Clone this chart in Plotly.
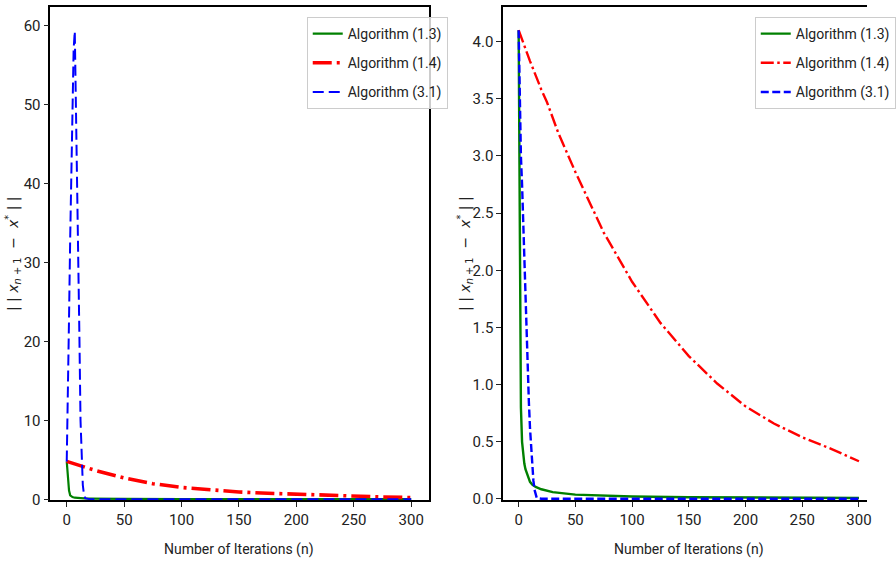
import plotly.graph_objects as go

# ---------------- data ----------------
# Left panel
n_left_green = [0, 1, 2, 3, 4, 5, 7, 10, 15, 20, 30, 50, 100, 150, 200, 250, 300]
alg13_left = [4.8, 2.6, 1.1, 0.5, 0.35, 0.28, 0.2, 0.15, 0.11, 0.09, 0.07, 0.05, 0.03, 0.02, 0.015, 0.012, 0.01]

n_left_red = [0, 10, 25, 50, 75, 100, 125, 150, 175, 200, 225, 250, 275, 300]
alg14_left = [4.8, 4.35, 3.65, 2.7, 1.98, 1.5, 1.18, 0.93, 0.76, 0.62, 0.5, 0.39, 0.3, 0.22]

n_left_blue = [0, 1, 2, 3, 4, 5, 6, 7, 8, 9, 10, 11, 12, 13, 14, 15, 16, 20, 50, 100, 150, 200, 250, 300]
alg31_left = [4.8, 12, 23, 33, 42, 50, 57, 59.3, 51, 42.5, 32, 21, 10, 4.5, 1.8, 0.6, 0.15,
              0.02, 0.01, 0.01, 0.01, 0.01, 0.01, 0.01]

# Right panel
n_right_green = [0, 1, 2, 3, 4, 5, 6, 8, 10, 12, 15, 20, 30, 50, 75, 100, 150, 200, 250, 300]
alg13_right = [4.1, 2.2, 0.8, 0.5, 0.38, 0.31, 0.26, 0.2, 0.15, 0.125, 0.105, 0.085, 0.06,
               0.038, 0.027, 0.021, 0.015, 0.012, 0.01, 0.009]

n_right_red = [0, 10, 20, 25, 35, 50, 75, 100, 125, 150, 175, 200, 225, 250, 275, 300]
alg14_right = [4.1, 3.83, 3.58, 3.47, 3.2, 2.86, 2.33, 1.90, 1.54, 1.25, 1.01, 0.81, 0.66, 0.54, 0.44, 0.33]

n_right_blue = [0, 1, 2, 3, 4, 5, 6, 7, 8, 9, 10, 11, 12, 13, 14, 15, 16, 20, 50, 100, 150, 200, 250, 300]
alg31_right = [4.1, 3.3, 3.0, 2.75, 2.4, 2.05, 1.72, 1.4, 1.1, 0.85, 0.62, 0.44, 0.28, 0.16, 0.08,
               0.03, 0.008, 0.002, 0.002, 0.002, 0.002, 0.002, 0.002, 0.002]

series_names = ["Algorithm (1.3)", "Algorithm (1.4)", "Algorithm (3.1)"]
x_ticks = [0, 50, 100, 150, 200, 250, 300]
y_ticks_left = [0, 10, 20, 30, 40, 50, 60]
y_ticks_right = [0.0, 0.5, 1.0, 1.5, 2.0, 2.5, 3.0, 3.5, 4.0]
x_title = "Number of Iterations (n)"
y_title = "| | <i>x</i><sub><i>n</i> + 1</sub>  −  <i>x</i><sup>*</sup> | |"

# ---------------- styling ----------------
W, H = 896, 567
FONT = "Roboto, Lato, sans-serif"
GREEN, RED, BLUE = "#008000", "#ff0000", "#0000ff"

fig = go.Figure()

def add_panel(xref, yref, legend, data, widths, dashes):
    for (xs, ys), name, color, w, d in zip(data, series_names, [GREEN, RED, BLUE], widths, dashes):
        fig.add_trace(go.Scatter(
            x=xs, y=ys, mode="lines", name=name,
            line=dict(color=color, width=w, dash=d),
            xaxis=xref, yaxis=yref, legend=legend,
            legendgroup=legend + name,
        ))

add_panel("x", "y", "legend",
          [(n_left_green, alg13_left), (n_left_red, alg14_left), (n_left_blue, alg31_left)],
          [2.2, 3.6, 2.0], ["solid", "19px,5px,3px,5px", "11px,5px"])
add_panel("x2", "y2", "legend2",
          [(n_right_green, alg13_right), (n_right_red, alg14_right), (n_right_blue, alg31_right)],
          [2.4, 2.4, 2.4], ["solid", "13px,3.5px,2.5px,3.5px", "8px,3.5px"])

# pixel geometry of the two plot areas
MT, MB = 7, 67
L1, R1 = 52, 443
L2, R2 = 520, 896
PH = H - MT - MB

def px(v):
    return v / W

axis_common = dict(
    showline=True, linecolor="#000000", linewidth=1.6,
    ticks="outside", ticklen=5, tickwidth=1.2, tickcolor="#222222",
    showgrid=False, zeroline=False,
    tickfont=dict(family=FONT, size=15, color="#222222"),
)

fig.update_layout(
    width=W, height=H,
    margin=dict(l=0, r=0, t=MT, b=MB),
    paper_bgcolor="white", plot_bgcolor="white",
    font=dict(family=FONT, color="#222222"),
    xaxis=dict(domain=[px(L1), px(R1)], range=[-14.3, 315.2], tickvals=x_ticks,
               mirror=True, anchor="y", **axis_common),
    yaxis=dict(domain=[0, 1], range=[-0.09, 62.36], tickvals=y_ticks_left,
               mirror=True, anchor="x", **axis_common),
    xaxis2=dict(domain=[px(L2), px(R2)], range=[-13.65, 307.1], tickvals=x_ticks,
                mirror=True, anchor="y2", **axis_common),
    yaxis2=dict(domain=[0, 1], range=[-0.009, 4.303], tickvals=y_ticks_right,
                tickformat=".1f", mirror=False, anchor="x2", **axis_common),
    legend=dict(x=px(317), y=1 - 10 / PH, xanchor="left", yanchor="top",
                bgcolor="rgba(255,255,255,0.8)", bordercolor="#cccccc", borderwidth=1,
                font=dict(family=FONT, size=14, color="#222222"),
                traceorder="grouped", tracegroupgap=8, itemwidth=30),
    legend2=dict(x=px(780), y=1 - 10 / PH, xanchor="left", yanchor="top",
                 bgcolor="rgba(255,255,255,0.8)", bordercolor="#cccccc", borderwidth=1,
                 font=dict(family=FONT, size=14, color="#222222"),
                 traceorder="grouped", tracegroupgap=8, itemwidth=30),
    showlegend=True,
)

ann_font = dict(family=FONT, size=14, color="#222222")
title_font = dict(family="DejaVu Sans, sans-serif", size=14, color="#222222")
fig.add_annotation(text=x_title, xref="paper", yref="paper", x=px(247), y=-(549 - 500) / PH,
                   xanchor="center", yanchor="middle", showarrow=False, font=ann_font)
fig.add_annotation(text=x_title, xref="paper", yref="paper", x=px(712), y=-(549 - 500) / PH,
                   xanchor="center", yanchor="middle", showarrow=False, font=ann_font)
fig.add_annotation(text=y_title, xref="paper", yref="paper", x=px(13), y=0.5, textangle=-90,
                   xanchor="center", yanchor="middle", showarrow=False, font=title_font)
fig.add_annotation(text=y_title, xref="paper", yref="paper", x=px(480), y=0.5, textangle=-90,
                   xanchor="center", yanchor="middle", showarrow=False, font=title_font)

fig.write_html(
    "out.html",
    config={"displayModeBar": False},
    post_script="document.body.style.margin='0';document.body.style.overflow='hidden';",
)
